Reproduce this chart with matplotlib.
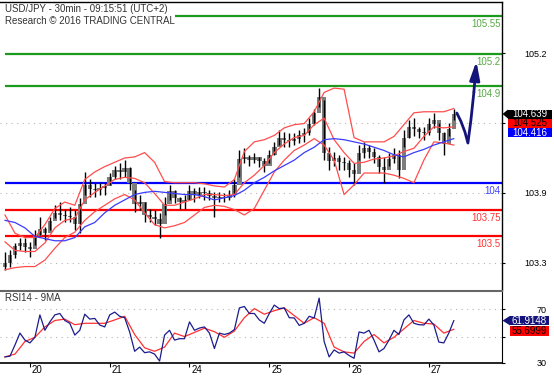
import numpy as np
import matplotlib.pyplot as plt
from matplotlib.patches import Polygon, Rectangle
from matplotlib.transforms import IdentityTransform

plt.rcParams['font.family'] = ['Liberation Sans', 'DejaVu Sans']

# 30-minute bars, one candle drawn every 3rd bar; bar 0 = start of the 20th
first_bar = -15
bar_step = 3
band_step = 6

highs = [103.36, 103.37, 103.44, 103.49, 103.49, 103.45, 103.56, 103.68, 103.59, 103.68,
         103.79, 103.82, 103.76, 103.77, 103.75, 103.86, 104.10, 104.03, 104.00, 104.00,
         104.01, 104.09, 104.16, 104.18, 104.21, 104.15, 103.93, 103.89, 103.82, 103.76,
         103.75, 103.72, 103.87, 103.98, 103.93, 103.87, 103.89, 103.98, 103.95, 103.96,
         103.96, 103.93, 103.91, 103.91, 103.90, 103.93, 104.03, 104.30, 104.32, 104.26,
         104.28, 104.24, 104.23, 104.30, 104.38, 104.49, 104.47, 104.46, 104.46, 104.49,
         104.51, 104.60, 104.69, 104.88, 104.77, 104.33, 104.29, 104.26, 104.24, 104.21,
         104.18, 104.35, 104.38, 104.35, 104.32, 104.26, 104.24, 104.28, 104.32, 104.30,
         104.49, 104.58, 104.60, 104.52, 104.52, 104.60, 104.65, 104.56, 104.47, 104.56,
         104.69]
lows = [103.19, 103.22, 103.30, 103.37, 103.36, 103.31, 103.42, 103.51, 103.47, 103.56,
        103.67, 103.65, 103.63, 103.63, 103.56, 103.53, 103.89, 103.87, 103.87, 103.89,
        103.89, 103.98, 104.03, 104.03, 104.05, 103.93, 103.73, 103.75, 103.63, 103.63,
        103.61, 103.49, 103.70, 103.84, 103.81, 103.76, 103.76, 103.84, 103.82, 103.86,
        103.84, 103.84, 103.68, 103.82, 103.82, 103.84, 103.87, 104.05, 104.18, 104.16,
        104.18, 104.15, 104.10, 104.18, 104.26, 104.35, 104.33, 104.33, 104.35, 104.37,
        104.38, 104.44, 104.54, 104.70, 104.21, 104.12, 104.16, 104.12, 104.12, 104.05,
        103.98, 104.21, 104.23, 104.23, 104.18, 104.09, 104.00, 104.16, 104.18, 104.04,
        104.33, 104.42, 104.43, 104.42, 104.40, 104.44, 104.51, 104.40, 104.26, 104.43,
        104.58]
closes = [103.25, 103.33, 103.41, 103.44, 103.40, 103.38, 103.50, 103.57, 103.53, 103.64,
          103.72, 103.70, 103.69, 103.68, 103.62, 103.80, 103.98, 103.94, 103.93, 103.95,
          103.97, 104.05, 104.12, 104.10, 104.14, 104.00, 103.80, 103.82, 103.70, 103.68,
          103.66, 103.62, 103.80, 103.92, 103.86, 103.82, 103.84, 103.92, 103.89, 103.91,
          103.90, 103.88, 103.86, 103.87, 103.86, 103.89, 103.98, 104.22, 104.24, 104.21,
          104.24, 104.20, 104.16, 104.26, 104.33, 104.42, 104.40, 104.39, 104.41, 104.44,
          104.46, 104.55, 104.65, 104.80, 104.28, 104.20, 104.23, 104.19, 104.18, 104.12,
          104.08, 104.28, 104.32, 104.29, 104.24, 104.15, 104.12, 104.22, 104.26, 104.12,
          104.42, 104.52, 104.50, 104.47, 104.46, 104.55, 104.58, 104.46, 104.36, 104.50,
          104.64]
first_open = 103.22

bb_upper = [103.70, 103.53, 103.49, 103.49, 103.61, 103.76, 103.82, 103.79, 104.03, 104.10,
            104.15, 104.19, 104.23, 104.24, 104.28, 104.19, 104.01, 104.00, 104.00, 104.00,
            103.99, 103.97, 103.96, 104.03, 104.29, 104.38, 104.40, 104.44, 104.51, 104.54,
            104.55, 104.66, 104.84, 104.88, 104.87, 104.42, 104.38, 104.38, 104.38, 104.43,
            104.54, 104.65, 104.66, 104.66, 104.66, 104.69]
bb_middle = [103.45, 103.37, 103.36, 103.36, 103.44, 103.58, 103.65, 103.67, 103.84, 103.91,
             103.97, 104.03, 104.05, 104.04, 104.00, 103.90, 103.79, 103.79, 103.82, 103.85,
             103.89, 103.89, 103.88, 103.89, 104.00, 104.07, 104.16, 104.28, 104.36, 104.42,
             104.44, 104.54, 104.60, 104.40, 104.28, 104.18, 104.19, 104.22, 104.23, 104.25,
             104.29, 104.32, 104.43, 104.52, 104.51, 104.52]
bb_lower = [103.19, 103.21, 103.22, 103.22, 103.28, 103.39, 103.49, 103.54, 103.65, 103.73,
            103.79, 103.85, 103.89, 103.84, 103.72, 103.61, 103.58, 103.60, 103.63, 103.70,
            103.77, 103.79, 103.78, 103.75, 103.70, 103.76, 103.93, 104.10, 104.21, 104.30,
            104.35, 104.41, 104.35, 104.21, 103.89, 103.98, 104.09, 104.09, 104.09, 104.07,
            104.04, 104.00, 104.21, 104.38, 104.37, 104.35]
ma_slow = [103.65, 103.63, 103.58, 103.50, 103.48, 103.46, 103.46, 103.49, 103.59, 103.63,
           103.72, 103.79, 103.84, 103.89, 103.91, 103.92, 103.91, 103.90, 103.89, 103.89,
           103.87, 103.84, 103.86, 103.88, 103.93, 104.00, 104.05, 104.11, 104.16, 104.21,
           104.28, 104.33, 104.40, 104.41, 104.40, 104.38, 104.36, 104.33, 104.30, 104.26,
           104.24, 104.28, 104.31, 104.35, 104.38, 104.41]

rsi = [36, 36.5, 44.5, 53, 48, 46, 50, 66, 55, 61,
       66, 67, 62, 60, 51.6, 55, 66.5, 63, 63.5, 58.8,
       57.4, 66, 68, 65, 64, 53.8, 40, 43, 39, 39.6,
       38, 33, 51.6, 55, 48, 49, 49, 61, 55, 56.6,
       57.4, 53, 42, 53, 52, 53, 55.5, 71, 72, 67,
       67, 62.4, 60, 67, 73, 70.5, 71, 64, 63.8, 58.5,
       60, 65, 63.8, 78, 47, 36, 41, 38.7, 39.6, 37,
       35, 53.8, 53, 55, 48, 39.6, 42, 48, 55, 52,
       62.4, 66, 60, 59, 58.8, 63, 58.8, 46.6, 46, 53,
       61.9]
rsi_ma = [36, 38, 47, 50, 57.4, 62, 63, 59, 60, 60,
          60, 62.4, 65, 52, 42.5, 40, 43, 53, 50.5, 53.5,
          56.5, 54, 50, 54.5, 64, 70.5, 66.5, 69, 71, 65.5,
          60, 64, 60, 43, 39.6, 38.7, 47, 52, 46, 50,
          56, 62, 60, 59.5, 53, 55.7]

resistances = [105.55, 105.2, 104.9]
pivot = [104.0]
supports = [103.75, 103.5]

day_bars = [0, 48, 96, 144, 192, 240]
day_labels = ['20', '21', '24', '25', '26', '27']

# the third tick label sits under the value tags, so it is left blank
price_ticks = [103.256, 103.907, 104.555, 105.204]
price_tick_labels = ['103.3', '103.9', '', '105.2']
rsi_ticks = [70, 50, 31.8]
rsi_tick_labels = ['70', '', '30']

last_close = 104.639
last_bb_mid = 104.525
last_ma = 104.416
last_rsi = 61.9148
last_rsi_ma = 55.6999

# projected path (navy arrow)
arrow_bar = [256.8, 259.2, 261.7, 263.5, 265.3, 267.1]
arrow_price = [104.648, 104.574, 104.472, 104.369, 104.583, 104.844]
arrow_tip = (268.6, 105.13)

W, H = 554, 376
fig = plt.figure(figsize=(W / 100, H / 100), dpi=100)
fig.patch.set_facecolor('white')
ax = fig.add_axes([0, 86 / H, 502 / W, 288 / H])
ax_rsi = fig.add_axes([0, 13 / H, 502 / W, 72 / H])

XMIN, XMAX = -18, 284
bars = first_bar + bar_step * np.arange(len(closes))
band_x = first_bar + band_step * np.arange(len(bb_upper))
opens = np.r_[first_open, closes[:-1]]
c = np.array(closes)

# ---- main price panel ----
grid_kw = dict(color='#b5b5b5', lw=0.8, linestyle=(0, (1, 4)), zorder=1)
for t in price_ticks[:-1]:
    ax.axhline(t, **grid_kw)


def level(lvl, start, line_color, text_color):
    ax.hlines(lvl, start, XMAX, color=line_color, lw=1.6, zorder=2)
    ax.annotate(f'{lvl:g}', xy=(0.997, lvl), xycoords=('axes fraction', 'data'),
                xytext=(0, -3), textcoords='offset pixels', ha='right', va='top',
                fontsize=7, color=text_color)


for lvl in resistances:
    level(lvl, 87 if lvl == resistances[0] else first_bar, '#1c9a1c', '#55aa44')
for lvl in pivot:
    level(lvl, first_bar, '#0000ff', '#4040ff')
for lvl in supports:
    level(lvl, first_bar, '#ff0000', '#ff3333')

ax.bar(bars, np.abs(c - opens), bottom=np.minimum(c, opens), width=2.7,
       color='#7d7d7d', zorder=3)
ax.vlines(bars, lows, highs, color='black', lw=1.0, zorder=4)

for band in (bb_upper, bb_middle, bb_lower):
    ax.plot(band_x, band, color='#ff4d4d', lw=0.9, zorder=5)
ax.plot(band_x, ma_slow, color='#3b3bff', lw=0.9, zorder=5)

navy = '#14147a'
ax.plot(arrow_bar, arrow_price, color=navy, lw=2, solid_capstyle='round', zorder=6)
ax.annotate('', xy=arrow_tip, xytext=(arrow_bar[-1], arrow_price[-1]),
            arrowprops=dict(arrowstyle='-|>,head_length=1.1,head_width=0.3',
                            color=navy, lw=2, shrinkA=0, shrinkB=0,
                            mutation_scale=10), zorder=6)

ax.set_xlim(XMIN, XMAX)
ax.set_ylim(103.002, 105.681)
ax.set_xticks([])
ax.yaxis.tick_right()
ax.set_yticks(price_ticks)
ax.set_yticklabels(price_tick_labels)
ax.tick_params(axis='y', direction='out', length=2.2, width=0.8, pad=30,
               labelsize=6.5)
for lab in ax.get_yticklabels():
    lab.set_ha('right')
for s in ('left', 'bottom'):
    ax.spines[s].set_visible(False)
ax.spines['top'].set_linewidth(1.0)
ax.spines['right'].set_linewidth(1.0)

# ---- RSI panel ----
ax_rsi.axhline(70, **grid_kw)
ax_rsi.axhline(50, **grid_kw)
ax_rsi.plot(bars, rsi, color='#1c1c8c', lw=0.9, zorder=4)
ax_rsi.plot(band_x, rsi_ma, color='#ff3030', lw=0.9, zorder=3)
ax_rsi.set_xlim(XMIN, XMAX)
ax_rsi.set_ylim(31.64, 83.07)
ax_rsi.yaxis.tick_right()
ax_rsi.set_yticks(rsi_ticks)
ax_rsi.set_yticklabels(rsi_tick_labels)
ax_rsi.tick_params(axis='y', direction='out', length=2.2, width=0.8, pad=30,
                   labelsize=6.5)
for lab in ax_rsi.get_yticklabels():
    lab.set_ha('right')
ax_rsi.set_xticks(day_bars)
ax_rsi.set_xticklabels([])
ax_rsi.tick_params(axis='x', direction='out', length=3, width=0.8)
for b, lbl in zip(day_bars, day_labels):
    ax_rsi.annotate(lbl, xy=(b, 0), xycoords=('data', 'axes fraction'),
                    xytext=(2, -7), textcoords='offset pixels', ha='left',
                    va='center', fontsize=7)
ax_rsi.spines['left'].set_visible(False)
ax_rsi.spines['top'].set_color('#666666')
ax_rsi.spines['top'].set_linewidth(1.5)
ax_rsi.spines['bottom'].set_linewidth(1.2)

# ---- texts ----
fig.text(5 / W, 1 - 9.5 / H, 'USD/JPY - 30min - 09:15:51 (UTC+2)', fontsize=7,
         va='center', color='#333333')
fig.text(5 / W, 1 - 21.5 / H, 'Research \u00a9 2016 TRADING CENTRAL', fontsize=7,
         va='center', color='#333333')
fig.text(5 / W, 1 - 298 / H, 'RSI14 - 9MA', fontsize=7, va='center', color='#333333')


# ---- value tags on the right scale ----
def tag(axis, yc, text, face, tcolor, pointer, left=6, right=50, h=9):
    x0 = axis.transAxes.transform((1, 0))[0]
    if pointer:
        fig.add_artist(Polygon([(x0 + 0.5, yc), (x0 + left, yc + h / 2),
                                (x0 + left, yc - h / 2)], closed=True,
                               facecolor=face, edgecolor='none',
                               transform=IdentityTransform(), zorder=10))
    fig.add_artist(Rectangle((x0 + left, yc - h / 2), right - left, h,
                             facecolor=face, edgecolor='none',
                             transform=IdentityTransform(), zorder=10))
    fig.text((x0 + (left + right) / 2) / W, yc / H, text, ha='center',
             va='center', fontsize=7, color=tcolor, zorder=11)


y_close = ax.transData.transform((0, last_close))[1]
tag(ax, y_close, f'{last_close:.3f}', 'black', 'white', True)
tag(ax, y_close - 9.3, f'{last_bb_mid:.3f}', '#ff0000', 'black', False)
tag(ax, y_close - 18.6, f'{last_ma:.3f}', '#0000ff', 'white', False)

y_rsi = ax_rsi.transData.transform((0, last_rsi))[1]
tag(ax_rsi, y_rsi, f'{last_rsi:.4f}', navy, 'white', True, left=8, right=47, h=9.5)
tag(ax_rsi, y_rsi - 10.5, f'{last_rsi_ma:.4f}', '#ff0000', 'black', False,
    left=8, right=47, h=9.5)

fig.savefig('out.png', dpi=100, facecolor='white')
